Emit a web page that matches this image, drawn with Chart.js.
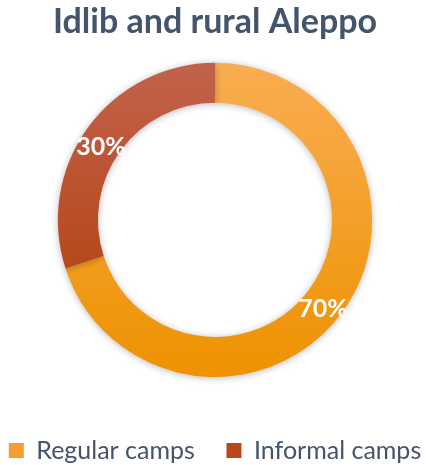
<!DOCTYPE html>
<html>
<head>
<meta charset="utf-8">
<script src="https://cdn.jsdelivr.net/npm/chart.js@4.4.1/dist/chart.umd.min.js"></script>
<style>
	html, body { margin: 0; padding: 0; background: #fff; }
	#wrap { width: 430px; height: 465px; }
</style>
</head>
<body>
<div id="wrap"><canvas id="campsChart"></canvas></div>
<script>
const categories = ['Regular camps', 'Informal camps'];
const shares = [70, 30];
const shareLabels = ['70%', '30%'];

// vertical gradients for each slice, top colour -> bottom colour
const sliceColours = [
	['#F9AD52', '#EE9200'],
	['#C2624C', '#B03A02']
];
const legendColours = ['#F5A02E', '#B9461C'];

function sliceFill(context) {
	const chart = context.chart;
	const area = chart.chartArea;
	if (!area) return sliceColours[context.dataIndex][1];
	const g = chart.ctx.createLinearGradient(0, area.top, 0, area.bottom);
	g.addColorStop(0, sliceColours[context.dataIndex][0]);
	g.addColorStop(1, sliceColours[context.dataIndex][1]);
	return g;
}

// soft shadow under the ring
const ringShadow = {
	id: 'ringShadow',
	beforeDatasetDraw(chart) {
		const ctx = chart.ctx;
		ctx.save();
		ctx.shadowColor = 'rgba(0,0,0,0.28)';
		ctx.shadowBlur = 7;
		ctx.shadowOffsetX = 0;
		ctx.shadowOffsetY = 1;
	},
	afterDatasetDraw(chart) {
		chart.ctx.restore();
	}
};

// percentage text on each slice, a little below the slice centre
const sliceText = {
	id: 'sliceText',
	afterDatasetsDraw(chart) {
		const ctx = chart.ctx;
		const meta = chart.getDatasetMeta(0);
		ctx.save();
		ctx.font = 'bold 25px Lato';
		ctx.fillStyle = '#ffffff';
		ctx.textAlign = 'center';
		ctx.textBaseline = 'middle';
		meta.data.forEach(function (arc, i) {
			const p = arc.tooltipPosition();
			ctx.fillText(shareLabels[i], p.x - 3, p.y + 8);
		});
		ctx.restore();
	}
};

var ctx = document.getElementById('campsChart').getContext('2d');
var campsChart = new Chart(ctx, {
	type: 'doughnut',
	data: {
		labels: categories,
		datasets: [{
			data: shares,
			backgroundColor: sliceFill,
			borderWidth: 0,
			hoverOffset: 0
		}]
	},
	options: {
		responsive: true,
		maintainAspectRatio: false,
		animation: false,
		cutout: '74.5%',
		layout: {
			padding: { top: 0, bottom: -8, left: 0, right: 0 }
		},
		plugins: {
			title: {
				display: true,
				text: 'Idlib and rural Aleppo',
				color: '#44546A',
				font: { family: 'Lato', size: 34, weight: 'bold' },
				padding: { top: 2, bottom: 20 }
			},
			legend: {
				position: 'bottom',
				// empty title only used as spacing above the legend row
				title: {
					display: true,
					text: '',
					font: { size: 10 },
					padding: { top: 43, bottom: 0 }
				},
				labels: {
					color: '#44546A',
					font: { family: 'Lato', size: 25 },
					boxWidth: 15,
					boxHeight: 15,
					padding: 6,
					generateLabels(chart) {
						return categories.map(function (name, i) {
							return {
								text: i === 0 ? name + '    ' : name,
								fillStyle: legendColours[i],
								strokeStyle: legendColours[i],
								lineWidth: 0,
								fontColor: '#44546A',
								index: i
							};
						});
					}
				}
			},
			tooltip: { enabled: false }
		}
	},
	plugins: [ringShadow, sliceText]
});
</script>
</body>
</html>
